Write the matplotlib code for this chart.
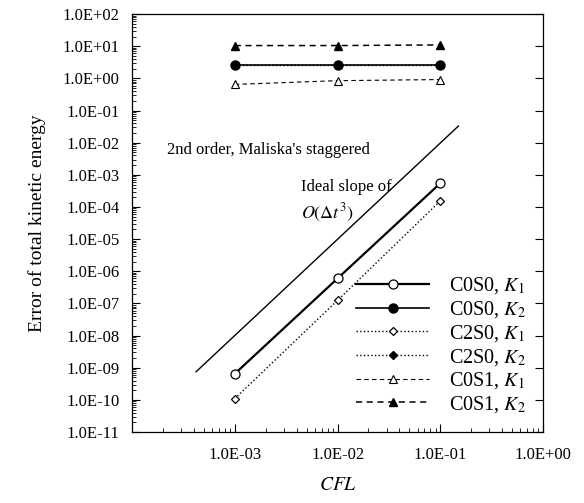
import matplotlib
matplotlib.use("Agg")
import matplotlib.pyplot as plt
from matplotlib.ticker import LogLocator, FuncFormatter, NullFormatter

plt.rcParams['font.family'] = ['Liberation Serif', 'DejaVu Serif']
plt.rcParams['mathtext.fontset'] = 'stix'

# CFL values (x)
cfl = [1e-3, 1e-2, 1e-1]

# error of total kinetic energy, one list per series
c0s0_k1 = [6.5e-10, 6.0e-7, 5.5e-4]
c0s0_k2 = [2.6, 2.6, 2.6]
c2s0_k1 = [1.1e-10, 1.25e-7, 1.55e-4]
c2s0_k2 = [2.6, 2.6, 2.6]
c0s1_k1 = [0.65, 0.85, 0.92]
c0s1_k2 = [10.5, 10.5, 11.0]

# reference line, slope 3
ideal_x = [4.2e-4, 0.15]
ideal_y = [7.5e-10, 3.3e-2]

labels = ['C0S0, $K_1$', 'C0S0, $K_2$', 'C2S0, $K_1$',
          'C2S0, $K_2$', 'C0S1, $K_1$', 'C0S1, $K_2$']

fig = plt.figure(figsize=(5.84, 5.03), dpi=100)
ax = fig.add_axes([0.226, 0.141, 0.704, 0.831])

ax.plot(ideal_x, ideal_y, color='black', lw=1.0)

ax.plot(cfl, c0s0_k1, '-', color='black', lw=1.6, marker='o', ms=6.5,
        mfc='white', mec='black', mew=0.9, label=labels[0])
ax.plot(cfl, c0s0_k2, '-', color='black', lw=1.2, marker='o', ms=6.5,
        mfc='black', mec='black', label=labels[1])
ax.plot(cfl, c2s0_k1, ':', color='black', lw=1.0, marker='D', ms=4.5,
        mfc='white', mec='black', mew=0.9, label=labels[2])
ax.plot(cfl, c2s0_k2, ':', color='black', lw=1.0, marker='D', ms=4.5,
        mfc='black', mec='black', label=labels[3])
ax.plot(cfl, c0s1_k1, '--', color='black', lw=0.8, dashes=(4, 3), marker='^', ms=6,
        mfc='white', mec='black', mew=0.8, label=labels[4])
ax.plot(cfl, c0s1_k2, '--', color='black', lw=1.1, dashes=(4, 3), marker='^', ms=6,
        mfc='black', mec='black', label=labels[5])

ax.set_xscale('log')
ax.set_yscale('log')
ax.set_xlim(1e-4, 1e0)
ax.set_ylim(1e-11, 1e2)

fmt = FuncFormatter(lambda v, p: '%.1E' % v)
ax.yaxis.set_major_locator(LogLocator(base=10, numticks=20))
ax.xaxis.set_minor_locator(LogLocator(base=10, subs=range(2, 10), numticks=20))
ax.yaxis.set_minor_locator(LogLocator(base=10, subs=range(2, 10), numticks=20))
ax.xaxis.set_major_formatter(fmt)
ax.yaxis.set_major_formatter(fmt)
ax.xaxis.set_minor_formatter(NullFormatter())
ax.yaxis.set_minor_formatter(NullFormatter())
# no 1.0E-04 label on the x axis, as in the original
ax.set_xticks([1e-3, 1e-2, 1e-1, 1e0])

ax.tick_params(which='major', direction='in', length=6, width=0.8,
               labelsize=12, pad=9, right=True)
ax.tick_params(which='minor', direction='in', length=3, width=0.6)
ax.tick_params(axis='x', pad=11)

for s in ax.spines.values():
    s.set_linewidth(0.9)

ax.set_xlabel('$CFL$', fontsize=14, labelpad=10)
ax.set_ylabel('Error of total kinetic energy', fontsize=14, labelpad=12)

ax.text(0.085, 0.675, "2nd order, Maliska's staggered", transform=ax.transAxes,
        fontsize=12, va='center')
ax.text(0.41, 0.587, 'Ideal slope of', transform=ax.transAxes, fontsize=12,
        va='center')
ax.text(0.41, 0.525, r'$O(\Delta t^3)$', transform=ax.transAxes, fontsize=13,
        va='center')

ax.legend(loc='lower right', bbox_to_anchor=(1.0, 0.0), frameon=False,
          fontsize=14.5, handlelength=3.6, labelspacing=0.14,
          handletextpad=1.0, borderaxespad=0.45)

fig.savefig('out.png', dpi=100)
